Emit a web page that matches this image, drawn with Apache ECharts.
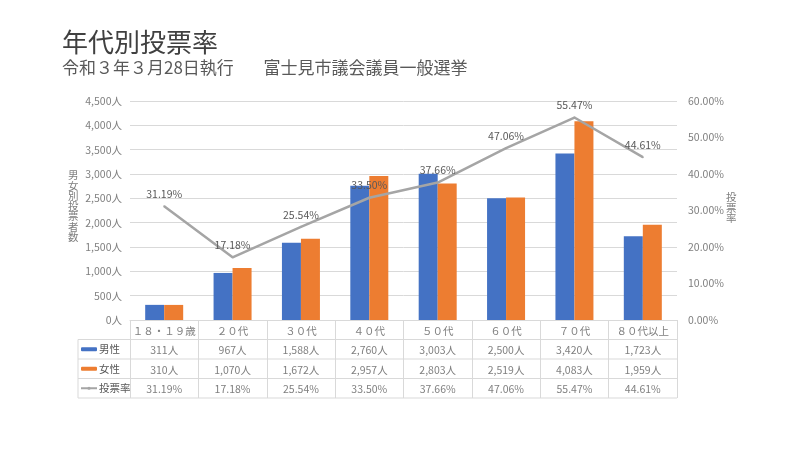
<!DOCTYPE html>
<html>
<head>
<meta charset="utf-8">
<script src="https://cdn.jsdelivr.net/npm/echarts@6/dist/echarts.min.js"></script>
<style>html,body{margin:0;padding:0;background:#fff;}#c{width:800px;height:450px;}</style>
</head>
<body>
<div id="c"></div>
<script>
const categories = ['１８・１９歳', '２０代', '３０代', '４０代', '５０代', '６０代', '７０代', '８０代以上'];
const male = [311, 967, 1588, 2760, 3003, 2500, 3420, 1723];
const female = [310, 1070, 1672, 2957, 2803, 2519, 4083, 1959];
const rate = [31.19, 17.18, 25.54, 33.50, 37.66, 47.06, 55.47, 44.61];
const seriesNames = ['男性', '女性', '投票率'];
const leftTicks = { min: 0, max: 4500, interval: 500 };
const rightTicks = { min: 0, max: 60, interval: 10 };

const FONT = '"Noto Sans CJK JP", "Noto Sans", sans-serif';
const G = { left: 130, right: 123, top: 101, bottom: 130 };
const ROW = 19.5;
const TABLE_LEFT = 78;

const fmtN = v => v.toLocaleString('en-US') + '人';
const fmtP = v => v.toFixed(2) + '%';

const chart = echarts.init(document.getElementById('c'));
const gridBottomY = 450 - G.bottom;
const tableRight = 800 - G.right;
const hLines = [1, 2, 3, 4].map(i => ({
  type: 'line', silent: true,
  shape: { x1: TABLE_LEFT, y1: gridBottomY + ROW * i, x2: tableRight, y2: gridBottomY + ROW * i },
  style: { stroke: '#d9d9d9', lineWidth: 1 }
}));

chart.setOption({
  animation: false,
  textStyle: { fontFamily: FONT },
  title: {
    left: 62, top: 29, padding: 0,
    text: '年代別投票率',
    subtext: '令和３年３月28日執行\u3000\u2002\u2005富士見市議会議員一般選挙',
    itemGap: 4,
    textStyle: { fontSize: 26, fontWeight: 'normal', color: '#404040', fontFamily: FONT },
    subtextStyle: { fontSize: 17, color: '#595959', fontFamily: FONT }
  },
  legend: {
    orient: 'vertical', left: 80, top: gridBottomY + ROW + 2.75, padding: 0,
    itemWidth: 16, itemHeight: 4, itemGap: 5.5,
    data: seriesNames,
    textStyle: { fontSize: 10.5, color: '#595959', lineHeight: 14, padding: [0, 0, 0, -3] }
  },
  grid: { left: G.left, right: G.right, top: G.top, bottom: G.bottom },
  xAxis: {
    type: 'category', data: categories,
    axisLine: { show: true, lineStyle: { color: '#d9d9d9' } },
    axisTick: { show: true, length: ROW * 4, interval: 0, lineStyle: { color: '#d9d9d9' } },
    axisLabel: {
      interval: 0, margin: 1,
      formatter: (v, i) => '{c|' + v + '}\n{v|' + fmtN(male[i]) + '}\n{v|' + fmtN(female[i]) + '}\n{v|' + fmtP(rate[i]) + '}',
      rich: {
        c: { fontSize: 10.5, color: '#7f7f7f', lineHeight: ROW, fontFamily: FONT },
        v: { fontSize: 10.5, color: '#7f7f7f', lineHeight: ROW, fontFamily: FONT }
      }
    }
  },
  yAxis: [
    {
      type: 'value', min: leftTicks.min, max: leftTicks.max, interval: leftTicks.interval,
      axisLine: { show: false }, axisTick: { show: false },
      axisLabel: { formatter: v => fmtN(v), fontSize: 10.5, color: '#7f7f7f', margin: 8 },
      splitLine: { lineStyle: { color: '#d9d9d9' } }
    },
    {
      type: 'value', min: rightTicks.min, max: rightTicks.max, interval: rightTicks.interval,
      axisLine: { show: false }, axisTick: { show: false },
      axisLabel: { formatter: v => v.toFixed(2) + '%', fontSize: 10.5, color: '#7f7f7f', margin: 11 },
      splitLine: { show: false }
    }
  ],
  graphic: [
    ...hLines,
    { type: 'line', silent: true, shape: { x1: TABLE_LEFT, y1: gridBottomY + ROW, x2: TABLE_LEFT, y2: gridBottomY + ROW * 4 }, style: { stroke: '#d9d9d9', lineWidth: 1 } },
    { type: 'text', left: 68, top: 170, style: { text: '男\n女\n別\n投\n票\n者\n数', lineHeight: 10.3, fill: '#7f7f7f', font: '10.5px ' + FONT } },
    { type: 'text', left: 726, top: 192, style: { text: '投\n票\n率', lineHeight: 10.5, fill: '#7f7f7f', font: '10.5px ' + FONT } }
  ],
  series: [
    { name: seriesNames[0], type: 'bar', data: male, barWidth: 19, barGap: '0%', itemStyle: { color: '#4472C4' } },
    { name: seriesNames[1], type: 'bar', data: female, barWidth: 19, barGap: '0%', itemStyle: { color: '#ED7D31' } },
    {
      name: seriesNames[2], type: 'line', yAxisIndex: 1, data: rate,
      symbol: 'circle', symbolSize: 2, showSymbol: true,
      lineStyle: { color: '#A5A5A5', width: 2.5 }, itemStyle: { color: '#A5A5A5' },
      label: { show: true, position: 'top', distance: 6, formatter: p => fmtP(p.value), fontSize: 10.5, color: '#595959' },
      z: 3
    }
  ]
});
</script>
</body>
</html>
